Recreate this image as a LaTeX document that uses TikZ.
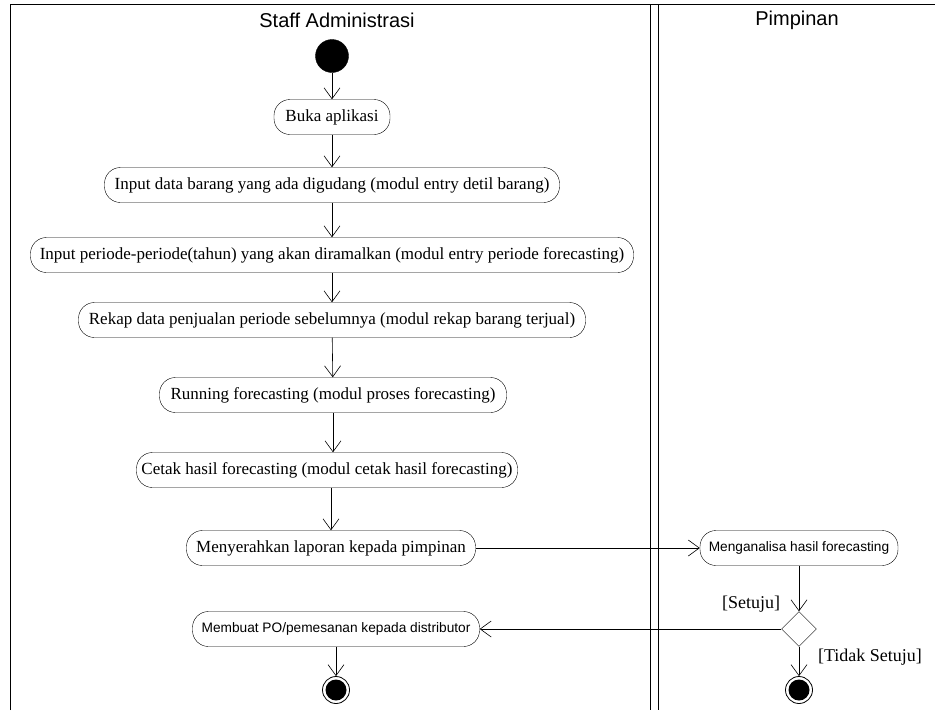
\documentclass[tikz,border=0pt]{standalone}
\usepackage{fontspec}
\setmainfont{Liberation Serif}
\newfontfamily\sansf{Liberation Sans}
\usetikzlibrary{arrows.meta,shapes.geometric}
\begin{document}
\begin{tikzpicture}[x=1pt,y=-1pt,
  act/.style={draw, rounded corners=16pt, minimum height=35pt, inner sep=0pt, font=\fontsize{17}{18}\selectfont},
  actsans/.style={act, font=\sansf\fontsize{13.7}{15}\selectfont},
  flow/.style={draw, line width=0.6pt, -{Straight Barb[length=11pt,width=16pt,line width=0.6pt]}},
  startnode/.style={circle, fill=black, draw, minimum size=33pt, inner sep=0pt},
  endnode/.style={circle, draw, line width=0.8pt, minimum size=27pt, inner sep=0pt,
     path picture={\fill[black] (path picture bounding box.center) circle (10.5pt);}},
  decision/.style={diamond, draw, minimum width=35pt, minimum height=35pt, inner sep=0pt},
  lane/.style={font=\sansf\fontsize{20}{22}\selectfont},
  guard/.style={font=\fontsize{18}{19}\selectfont}
]
\useasboundingbox (0,0) rectangle (935,710);
% swimlanes
\draw[line width=1pt] (10,710) -- (10,4.5) -- (935,4.5);
\draw[line width=1pt] (650,4.5) -- (650,710);
\draw[line width=1pt] (658,4.5) -- (658,710);
\node[lane] (l1) at (337,20) {Staff Administrasi};
\node[lane] (l2) at (797,20) {Pimpinan};
% nodes
\node[startnode] (s) at (332,56) {};
\node[act, minimum width=116pt] (a1) at (332,117) {Buka aplikasi};
\node[act, minimum width=455pt] (a2) at (332,185) {Input data barang yang ada digudang (modul entry detil barang)};
\node[act, minimum width=603pt] (a3) at (332,255) {Input periode-periode(tahun) yang akan diramalkan (modul entry periode forecasting)};
\node[act, minimum width=507pt] (a4) at (332,320) {Rekap data penjualan periode sebelumnya (modul rekap barang terjual)};
\node[act, minimum width=347pt] (a5) at (333,395) {Running forecasting (modul proses forecasting)};
\node[act, minimum width=381pt] (a6) at (327,470) {Cetak hasil forecasting (modul cetak hasil forecasting)};
\node[act, minimum width=289pt] (a7) at (331,548) {Menyerahkan laporan kepada pimpinan};
\node[actsans, minimum width=198pt] (b1) at (799,548) {Menganalisa hasil forecasting};
\node[decision] (d) at (799,629) {};
\node[actsans, minimum width=287pt] (a8) at (336,629) {Membuat PO/pemesanan kepada distributor};
\node[endnode] (e1) at (336,690) {};
\node[endnode] (e2) at (799,690) {};
\node[guard] (g1) at (751,604) {[Setuju]};
\node[guard] (g2) at (870,657) {[Tidak Setuju]};
% flows
\draw[flow] (s) -- (a1);
\draw[flow] (a1) -- (a2);
\draw[flow] (a2) -- (a3);
\draw[flow] (a3) -- (a4);
\draw[flow] (a4) -- (a5);
\draw[flow] (a5.south) -- (a5.south |- a6.north);
\draw[flow] (a6.south -| a7.north) -- (a7.north);
\draw[flow] (a7) -- (b1);
\draw[flow] (b1) -- (d);
\draw[flow] (d) -- (a8);
\draw[flow] (d) -- (e2);
\draw[flow] (a8) -- (e1);
\end{tikzpicture}
\end{document}
